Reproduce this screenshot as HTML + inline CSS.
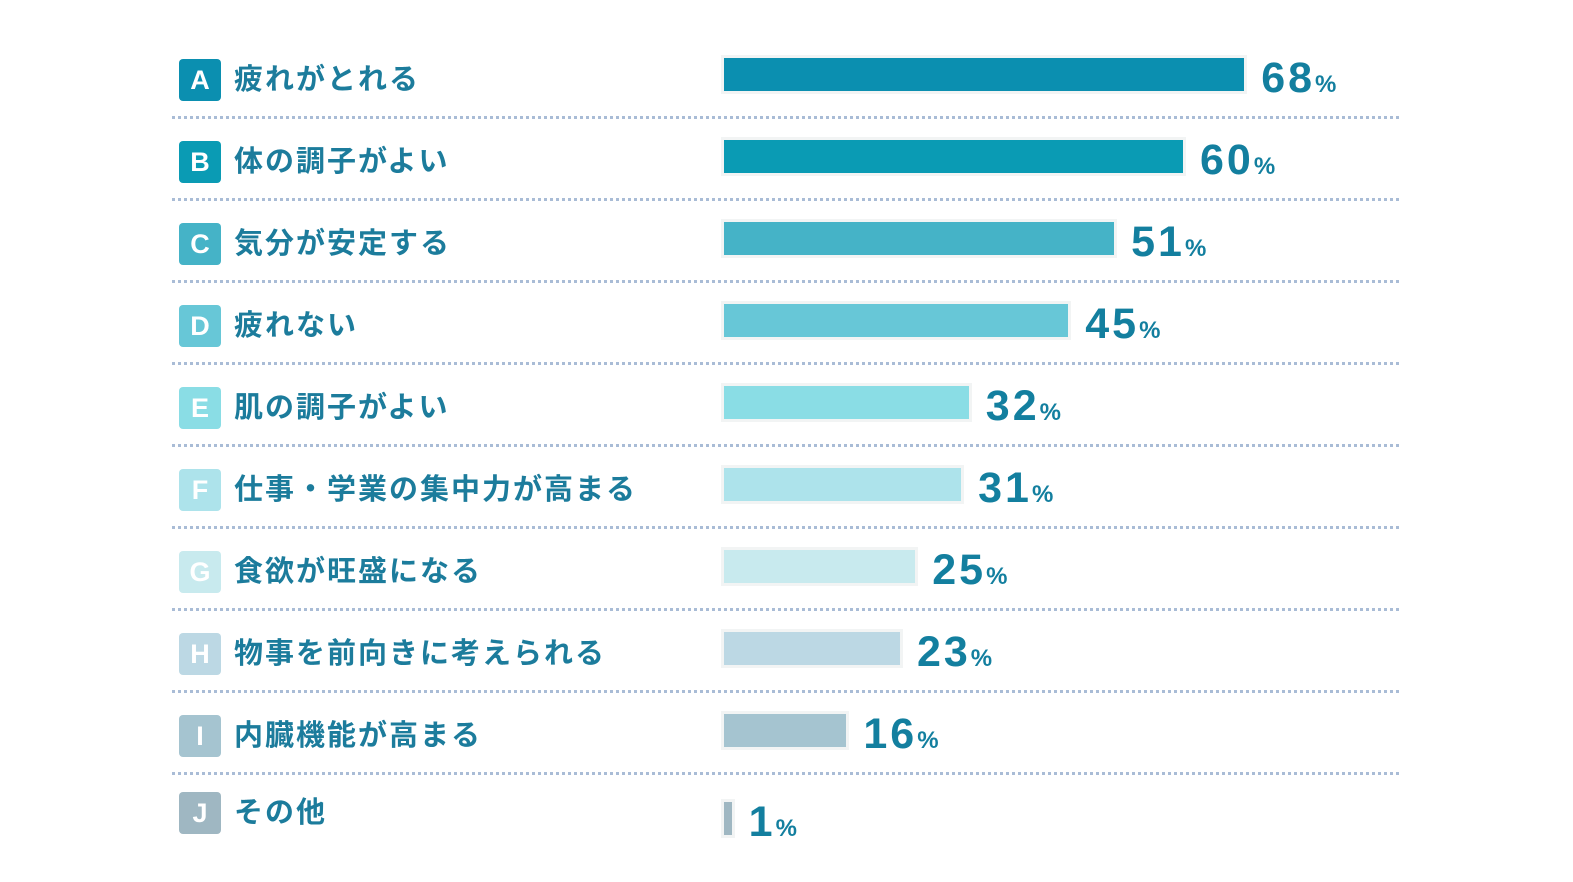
<!DOCTYPE html>
<html><head><meta charset="utf-8">
<style>
body{margin:0;background:#fff;width:1573px;height:882px;overflow:hidden;font-family:"Liberation Sans","Noto Sans CJK JP",sans-serif;}
#chart{position:relative;width:1573px;height:882px;}
.badge{position:absolute;left:179px;width:42px;height:42px;border-radius:4px;color:#fff;font-weight:bold;font-size:27px;line-height:42px;text-align:center;}
.label{position:absolute;left:234px;font-size:29px;font-weight:bold;color:#1c7c9c;line-height:42px;white-space:nowrap;letter-spacing:2px;}
.sep{position:absolute;left:172px;width:1227px;height:0;border-top:3px dotted #a9bcd6;}
.bar{position:absolute;left:724px;height:33px;box-shadow:0 0 0 3px #f2f4f4;}
.val{position:absolute;color:#137f9f;font-weight:bold;font-size:43px;line-height:42px;white-space:nowrap;letter-spacing:3px;}
.val small{font-size:24px;margin-left:0px;letter-spacing:0;}
</style></head><body>
<div id="chart"></div>
<script>
const letters=["A","B","C","D","E","F","G","H","I","J"];
const categories=["疲れがとれる","体の調子がよい","気分が安定する","疲れない","肌の調子がよい","仕事・学業の集中力が高まる","食欲が旺盛になる","物事を前向きに考えられる","内臓機能が高まる","その他"];
const values=[68,60,51,45,32,31,25,23,16,1];
const colors=["#0b8fb0","#0a9bb4","#45b3c7","#67c7d7","#8adde5","#ade3eb","#c8eaee","#bcd8e4","#a5c4d0","#9fb7c2"];
const chart=document.getElementById('chart');
const x0=724, scale=7.65, rowTop=58, rowH=82;
function xs(v){return v*scale;}
values.forEach((v,i)=>{
  const cy=rowTop+16+i*rowH;
  const by=cy+6-(i===9?5:0);
  const b=document.createElement('div');b.className='badge';
  
  
  b.style.top=(by-21)+'px';b.style.background=colors[i];b.textContent=letters[i];chart.appendChild(b);
  const l=document.createElement('div');l.className='label';
  
  
  l.style.top=(by-21)+'px';l.textContent=categories[i];chart.appendChild(l);
  const w=Math.max(5,xs(v));
  const bar=document.createElement('div');bar.className='bar';
  
  
  bar.style.top=(cy-16+(i===9?6:0))+'px';bar.style.width=w+'px';bar.style.background=colors[i];chart.appendChild(bar);
  const t=document.createElement('div');t.className='val';
  
  
  t.style.left=(x0+w+17)+'px';t.style.top=(cy-17+(i===9?6:0))+'px';
  t.innerHTML=v+'<small>%</small>';chart.appendChild(t);
  if(i<values.length-1){
    const s=document.createElement('div');s.className='sep';
    
    
    s.style.top=(cy+42)+'px';chart.appendChild(s);
  }
});
</script>
</body></html>
